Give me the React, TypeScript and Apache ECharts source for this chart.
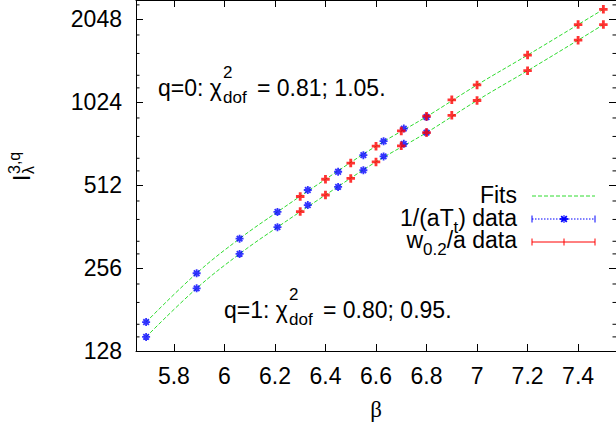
import React, { useEffect, useRef } from "react";
import * as echarts from "echarts";

// ---- data ----
const betaBlue = [5.69, 5.89, 6.06, 6.21, 6.33, 6.45, 6.55, 6.63, 6.71, 6.8];
const blueQ0 = [163, 245, 327, 409, 491, 572, 657, 738, 820, 903];
const blueQ1 = [144, 216, 288, 360, 433, 504, 579, 650, 722, 793];

const betaRed = [6.3, 6.4, 6.5, 6.6, 6.7, 6.8, 6.9, 7.0, 7.2, 7.4, 7.5];
const redQ0 = [465, 537, 615, 708, 804, 910, 1043, 1181, 1515, 1954, 2220];
const redQ1 = [410, 471, 541, 621, 710, 793, 916, 1037, 1330, 1716, 1954];

const betaFit = [5.69, 5.89, 6.06, 6.21, 6.4, 6.6, 6.8, 7.0, 7.2, 7.4, 7.5];
const fitQ0 = [163, 245, 327, 409, 537, 708, 906, 1181, 1515, 1954, 2220];
const fitQ1 = [144, 216, 288, 360, 471, 621, 793, 1037, 1330, 1716, 1954];

const xTicks = [5.8, 6.0, 6.2, 6.4, 6.6, 6.8, 7.0, 7.2, 7.4];
const yMinorTicks = [144, 160, 192, 224, 288, 320, 384, 448, 576, 640, 768, 896, 1152, 1280, 1536, 1792, 2304];

const X_MIN = 5.65;
const X_MAX = 7.55;
const Y_MIN = 128;
const Y_MAX = 2400;

const FONT = "'Liberation Sans', Arial, Helvetica, sans-serif";
const GREEN = "#2fdc2f";
const BLUE = "#0000ff";
const RED = "#ff0000";

const PLUS = "path://M3,0H6V3H9V6H6V9H3V6H0V3H3Z";
const STAR = "path://M0,4H8M4,0V8M1.2,1.2L6.8,6.8M6.8,1.2L1.2,6.8";

const pairs = (xs: number[], ys: number[]) => xs.map((x, i) => [x, ys[i]]);

export default function App() {
  const ref = useRef<HTMLDivElement>(null);

  useEffect(() => {
    if (!ref.current) return;
    const chart = echarts.init(ref.current, null, { renderer: "svg" });

    const fitSeries = (data: number[][], name: string) => ({
      type: "line",
      name,
      data,
      smooth: 0.4,
      symbol: "none",
      lineStyle: { color: GREEN, width: 1, type: [4, 2] },
      z: 2,
    });
    const blueSeries = (data: number[][]) => ({
      type: "scatter",
      data,
      symbol: STAR,
      symbolSize: 8,
      itemStyle: { color: "none", borderColor: BLUE, borderWidth: 1.8 },
      z: 3,
    });
    const redSeries = (data: number[][]) => ({
      type: "scatter",
      data,
      symbol: PLUS,
      symbolSize: 8.5,
      itemStyle: { color: RED },
      z: 4,
    });

    const txt = (x: number, y: number, text: string, size = 23, extra: any = {}) => ({
      type: "text",
      x,
      y,
      style: {
        text,
        fill: "#000",
        font: `${size}px ${FONT}`,
        verticalAlign: "middle",
        ...extra,
      },
    });

    const hl = (x1: number, x2: number, y: number, stroke: string, extra: any = {}) => ({
      type: "line",
      shape: { x1, y1: y, x2, y2: y },
      style: { stroke, lineWidth: 1, ...extra },
    });
    const vl = (x: number, y1: number, y2: number, stroke: string) => ({
      type: "line",
      shape: { x1: x, y1, x2: x, y2 },
      style: { stroke, lineWidth: 1 },
    });

    const graphic: any[] = [
      // annotations
      txt(158, 88, "q=0: χ"),
      txt(223, 72, "2", 17),
      txt(223, 97, "dof", 17),
      txt(257, 88, "= 0.81; 1.05."),
      txt(224, 310, "q=1: χ"),
      txt(289, 294, "2", 17),
      txt(289, 319, "dof", 17),
      txt(323, 310, "= 0.80; 0.95."),
      // x axis name
      {
        type: "text",
        x: 376,
        y: 409,
        style: {
          text: "β",
          fill: "#000",
          font: `23px 'Liberation Serif', 'DejaVu Serif', serif`,
          align: "center",
          verticalAlign: "middle",
        },
      },
      // y axis name (rotated)
      {
        type: "group",
        x: 22,
        y: 181,
        rotation: Math.PI / 2,
        children: [
          txt(0, 0, "I", 23),
          txt(7, -8, "3,q", 16),
          txt(7, 6, "λ", 16),
        ],
      },
      // legend
      txt(517, 195, "Fits", 23, { align: "right" }),
      hl(532, 595, 196, GREEN, { lineDash: [4, 2] }),
      txt(400, 217.5, "1/(aT", 23),
      txt(453.5, 227, "t", 17),
      txt(458.2, 217.5, ") data", 23),
      hl(532, 595, 219, BLUE, { lineDash: [1.5, 1.5] }),
      vl(532, 215.5, 222.5, BLUE),
      vl(595, 215.5, 222.5, BLUE),
      hl(560, 568, 219, BLUE, { lineWidth: 1.8 }),
      vl(564, 215, 223, BLUE),
      { type: "line", shape: { x1: 561.2, y1: 216.2, x2: 566.8, y2: 221.8 }, style: { stroke: BLUE, lineWidth: 1.8 } },
      { type: "line", shape: { x1: 566.8, y1: 216.2, x2: 561.2, y2: 221.8 }, style: { stroke: BLUE, lineWidth: 1.8 } },
      txt(406.5, 240, "w", 23),
      txt(423, 249, "0.2", 17),
      txt(446.7, 240, "/a data", 23),
      hl(532, 595, 242, RED),
      vl(532, 238.5, 245.5, RED),
      vl(564, 238.5, 245.5, RED),
      vl(595, 238.5, 245.5, RED),
    ];

    const option: any = {
      animation: false,
      grid: { left: 136, top: -2, width: 481, height: 353, containLabel: false },
      xAxis: [
        {
          type: "value",
          min: X_MIN,
          max: X_MAX,
          position: "bottom",
          axisLine: { show: true, lineStyle: { color: "#000", width: 1 } },
          axisTick: { show: true, inside: true, length: 7, customValues: xTicks, lineStyle: { color: "#000" } },
          axisLabel: {
            show: true,
            customValues: xTicks,
            margin: 13,
            color: "#000",
            fontSize: 23,
            fontFamily: FONT,
            formatter: (v: number) => String(Math.round(v * 10) / 10),
          },
          splitLine: { show: false },
        },
        {
          type: "value",
          min: X_MIN,
          max: X_MAX,
          position: "top",
          axisLine: { show: true, lineStyle: { color: "#000", width: 1 } },
          axisTick: { show: true, inside: true, length: 7, customValues: xTicks, lineStyle: { color: "#000" } },
          axisLabel: { show: false },
          splitLine: { show: false },
        },
      ],
      yAxis: [
        {
          type: "log",
          logBase: 2,
          min: Y_MIN,
          max: Y_MAX,
          position: "left",
          axisLine: { show: true, lineStyle: { color: "#000", width: 1 } },
          axisTick: { show: true, inside: true, length: 7, lineStyle: { color: "#000" } },
          axisLabel: {
            margin: 14,
            color: "#000",
            fontSize: 23,
            fontFamily: FONT,
            formatter: (v: number) => {
              const l = Math.log2(v);
              return Math.abs(l - Math.round(l)) < 1e-6 ? String(Math.round(v)) : "";
            },
          },
          splitLine: { show: false },
        },
        {
          type: "log",
          logBase: 2,
          min: Y_MIN,
          max: Y_MAX,
          position: "right",
          axisLine: { show: true, lineStyle: { color: "#000", width: 1 } },
          axisTick: { show: true, inside: true, length: 7, lineStyle: { color: "#000" } },
          axisLabel: { show: false },
          splitLine: { show: false },
        },
      ],
      series: [
        fitSeries(pairs(betaFit, fitQ0), "fit0"),
        fitSeries(pairs(betaFit, fitQ1), "fit1"),
        blueSeries(pairs(betaBlue, blueQ0)),
        blueSeries(pairs(betaBlue, blueQ1)),
        redSeries(pairs(betaRed, redQ0)),
        redSeries(pairs(betaRed, redQ1)),
        {
          type: "custom",
          silent: true,
          data: yMinorTicks.map((v) => [X_MIN, v]),
          renderItem: (params: any, api: any) => {
            const y = api.coord([X_MIN, api.value(1)])[1];
            const cs = params.coordSys;
            return {
              type: "group",
              children: [
                { type: "line", shape: { x1: cs.x, y1: y, x2: cs.x + 3.5, y2: y }, style: { stroke: "#000", lineWidth: 1 } },
                {
                  type: "line",
                  shape: { x1: cs.x + cs.width - 3.5, y1: y, x2: cs.x + cs.width, y2: y },
                  style: { stroke: "#000", lineWidth: 1 },
                },
              ],
            };
          },
          z: 1,
        },
      ],
      graphic,
    };

    chart.setOption(option);
    return () => chart.dispose();
  }, []);

  return (
    <div
      ref={ref}
      style={{ position: "fixed", left: 0, top: 0, width: 616, height: 427, background: "#fff" }}
    />
  );
}
